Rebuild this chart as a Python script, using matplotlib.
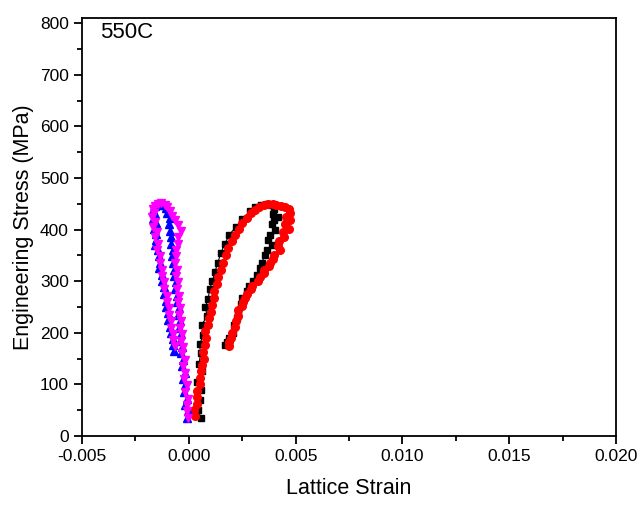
import matplotlib
matplotlib.use("Agg")
import matplotlib.pyplot as plt
from matplotlib.ticker import MultipleLocator, FormatStrFormatter

plt.rcParams['font.family'] = ['Liberation Sans', 'DejaVu Sans']

# black squares
strain_1 = [0.00055, 0.00045, 0.00050, 0.00055, 0.00040, 0.00060, 0.00048, 0.00055, 0.00050, 0.00068,
            0.00060, 0.00085, 0.00078, 0.00090, 0.00098, 0.00110, 0.00122, 0.00135, 0.00150, 0.00168,
            0.00190, 0.00220, 0.00250, 0.00285, 0.00310, 0.00340, 0.00365, 0.00385, 0.00400, 0.00392,
            0.00418, 0.00398, 0.00388, 0.00402, 0.00382, 0.00372, 0.00388, 0.00366, 0.00355, 0.00342,
            0.00332, 0.00318, 0.00302, 0.00282, 0.00272, 0.00248, 0.00242, 0.00228, 0.00226, 0.00212,
            0.00208, 0.00188, 0.00180, 0.00170]
stress_1 = [35, 50, 70, 90, 105, 125, 140, 160, 178, 195,
            215, 232, 250, 265, 285, 300, 318, 335, 355, 372,
            390, 405, 420, 435, 443, 448, 450, 448, 440, 430,
            425, 418, 410, 400, 390, 380, 370, 360, 350, 335,
            325, 312, 300, 290, 280, 268, 255, 240, 228, 215,
            200, 190, 182, 176]

# red circles
strain_2 = [0.00030, 0.00025, 0.00038, 0.00040, 0.00036, 0.00050, 0.00052, 0.00058, 0.00060, 0.00070,
            0.00066, 0.00078, 0.00082, 0.00078, 0.00092, 0.00095, 0.00105, 0.00108, 0.00118, 0.00120,
            0.00132, 0.00138, 0.00152, 0.00160, 0.00175, 0.00185, 0.00202, 0.00215, 0.00235, 0.00250,
            0.00272, 0.00290, 0.00312, 0.00330, 0.00352, 0.00370, 0.00392, 0.00410, 0.00432, 0.00450,
            0.00468, 0.00472, 0.00455, 0.00475, 0.00452, 0.00468, 0.00442, 0.00445, 0.00422, 0.00418,
            0.00425, 0.00398, 0.00395, 0.00378, 0.00375, 0.00352, 0.00350, 0.00332, 0.00322, 0.00298,
            0.00292, 0.00272, 0.00265, 0.00252, 0.00248, 0.00232, 0.00230, 0.00220, 0.00214, 0.00203,
            0.00197, 0.00188, 0.00186]
stress_2 = [38, 50, 62, 75, 88, 100, 112, 125, 138, 150,
            163, 176, 190, 203, 216, 228, 241, 254, 267, 280,
            294, 308, 322, 336, 350, 365, 378, 390, 402, 413,
            423, 432, 438, 444, 448, 450, 449, 447, 445, 443,
            440, 432, 425, 418, 410, 402, 395, 386, 378, 368,
            360, 350, 342, 336, 330, 322, 316, 308, 300, 290,
            284, 276, 268, 260, 252, 245, 232, 222, 212, 200,
            190, 182, 174]

# blue up triangles
strain_3 = [-0.00010, -0.00006, -0.00016, -0.00010, -0.00022, -0.00016, -0.00027, -0.00020, -0.00032, -0.00026,
            -0.00037, -0.00030, -0.00042, -0.00036, -0.00047, -0.00040, -0.00052, -0.00046, -0.00057, -0.00056,
            -0.00064, -0.00058, -0.00070, -0.00068, -0.00074, -0.00080, -0.00073, -0.00084, -0.00083, -0.00090,
            -0.00092, -0.00088, -0.00100, -0.00105, -0.00112, -0.00120, -0.00132, -0.00145, -0.00160, -0.00167,
            -0.00158, -0.00170, -0.00156, -0.00164, -0.00153, -0.00152, -0.00157, -0.00143, -0.00142, -0.00133,
            -0.00140, -0.00126, -0.00127, -0.00116, -0.00117, -0.00108, -0.00107, -0.00096, -0.00097, -0.00086,
            -0.00084, -0.00076, -0.00074, -0.00068]
stress_3 = [35, 48, 60, 72, 85, 98, 110, 122, 135, 148,
            160, 172, 185, 198, 210, 222, 235, 248, 260, 272,
            285, 298, 310, 322, 335, 348, 360, 372, 385, 398,
            410, 422, 432, 442, 448, 452, 450, 448, 445, 438,
            430, 420, 412, 402, 392, 380, 370, 360, 348, 336,
            325, 312, 300, 288, 276, 262, 250, 238, 225, 212,
            200, 188, 176, 165]

# magenta down triangles
strain_4 = [-0.00002, -0.00007, -0.00010, -0.00006, -0.00016, -0.00010, -0.00021, -0.00016, -0.00026, -0.00020,
            -0.00031, -0.00026, -0.00036, -0.00031, -0.00041, -0.00036, -0.00046, -0.00041, -0.00051, -0.00046,
            -0.00056, -0.00051, -0.00061, -0.00056, -0.00066, -0.00060, -0.00061, -0.00053, -0.00049, -0.00038,
            -0.00052, -0.00063, -0.00077, -0.00088, -0.00102, -0.00113, -0.00132, -0.00143, -0.00157, -0.00168,
            -0.00163, -0.00174, -0.00158, -0.00167, -0.00150, -0.00160, -0.00143, -0.00150, -0.00136, -0.00134,
            -0.00126, -0.00124, -0.00116, -0.00114, -0.00103, -0.00102, -0.00093, -0.00092, -0.00083, -0.00082,
            -0.00073, -0.00072, -0.00066]
stress_4 = [35, 48, 60, 72, 85, 98, 110, 122, 135, 148,
            160, 172, 185, 198, 210, 222, 235, 248, 260, 272,
            285, 298, 310, 322, 335, 348, 360, 372, 385, 398,
            408, 418, 426, 435, 443, 448, 452, 450, 446, 440,
            432, 425, 415, 405, 395, 385, 372, 360, 348, 335,
            322, 310, 298, 285, 272, 260, 248, 235, 222, 210,
            198, 186, 175]

fig = plt.figure(figsize=(6.41, 5.08), dpi=100)
ax = fig.add_axes([0.128, 0.1417, 0.833, 0.823])

ax.plot(strain_1, stress_1, '-s', color='black', ms=4.5, lw=0.8)
ax.plot(strain_2, stress_2, '-o', color='red', ms=5.5, lw=0.8)
ax.plot(strain_3, stress_3, '-^', color='blue', ms=5.5, lw=0.8)
ax.plot(strain_4, stress_4, '-v', color='magenta', ms=5.5, lw=0.8)

ax.set_xlim(-0.005, 0.020)
ax.set_ylim(0, 810)
ax.xaxis.set_major_locator(MultipleLocator(0.005))
ax.xaxis.set_minor_locator(MultipleLocator(0.0025))
ax.yaxis.set_major_locator(MultipleLocator(100))
ax.yaxis.set_minor_locator(MultipleLocator(50))
ax.xaxis.set_major_formatter(FormatStrFormatter('%.3f'))

for s in ax.spines.values():
    s.set_linewidth(1.3)
ax.tick_params(which='both', direction='out', top=False, right=False, width=1.3, labelsize=12.5)
ax.tick_params(which='major', length=6)
ax.tick_params(which='minor', length=3.5)

ax.set_xlabel('Lattice Strain', fontsize=15.5, labelpad=10)
ax.set_ylabel('Engineering Stress (MPa)', fontsize=15.5, labelpad=4)
ax.text(0.034, 0.99, '550C', transform=ax.transAxes, fontsize=16, va='top', ha='left')

fig.savefig('out.png', dpi=100)
